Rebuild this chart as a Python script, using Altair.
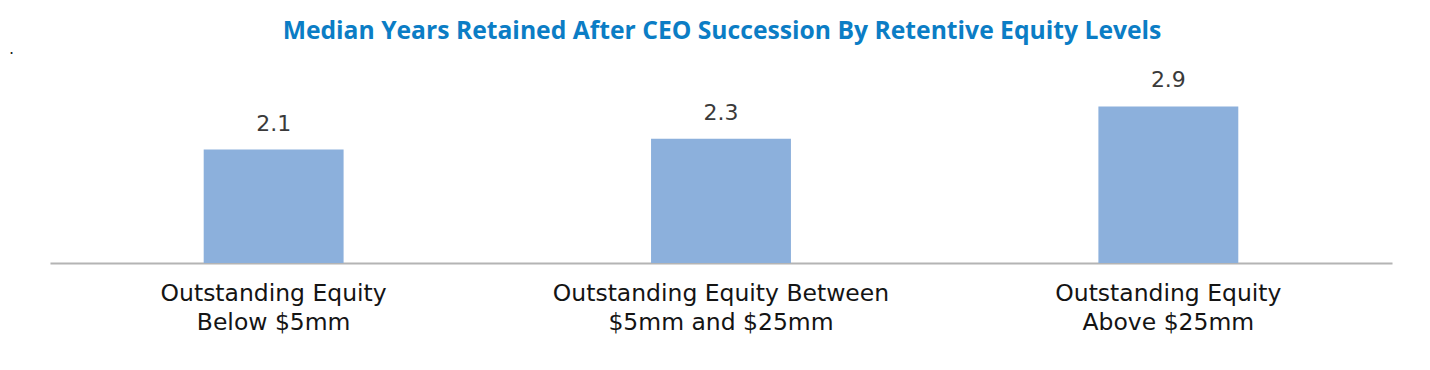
import altair as alt
import pandas as pd

title_text = "Median Years Retained After CEO Succession By Retentive Equity Levels"
categories = [
    "Outstanding Equity|Below $5mm",
    "Outstanding Equity Between|$5mm and $25mm",
    "Outstanding Equity|Above $25mm",
]
values = [2.1, 2.3, 2.9]
value_labels = ["2.1", "2.3", "2.9"]

df = pd.DataFrame({"category": categories, "value": values, "label": value_labels})

FONT = "DejaVu Sans"
TITLE_FONT = "Open Sans"
W, H = 1343, 189

x_enc = alt.X(
    "category:N",
    sort=categories,
    title=None,
    scale=alt.Scale(paddingInner=0, paddingOuter=0),
    axis=alt.Axis(
        orient="bottom",
        labelAngle=0,
        ticks=False,
        domainColor="#b4b4b4",
        domainWidth=2,
        labelFont=FONT,
        labelFontSize=23.5,
        labelColor="#141414",
        labelBaseline="alphabetic",
        labelPadding=38,
        labelLineHeight=28.5,
        labelLimit=500,
        labelExpr="split(datum.label, '|')",
        grid=False,
    ),
)
y_enc = alt.Y("value:Q", scale=alt.Scale(domain=[0, 3.5]), axis=None, title=None)

bars = alt.Chart(df).mark_bar(size=140, color="#8cb0dc").encode(x=x_enc, y=y_enc)

texts = alt.Chart(df).mark_text(
    baseline="alphabetic", dy=-19, font=FONT, fontSize=22, color="#3a3a3a"
).encode(x=x_enc, y=y_enc, text="label:N")

title = alt.Chart(pd.DataFrame({"t": [title_text]})).mark_text(
    font=TITLE_FONT, fontSize=24.7, fontWeight="bold", color="#0b7dc5",
    align="center", baseline="alphabetic"
).encode(x=alt.value(W / 2 + 1), y=alt.value(-34.7), text="t:N")

dot = alt.Chart(pd.DataFrame({"t": ["."]})).mark_text(
    font=FONT, fontSize=16, color="#222222", align="left", baseline="alphabetic"
).encode(x=alt.value(-41), y=alt.value(-20), text="t:N")

chart = (
    alt.layer(bars, texts, title, dot)
    .properties(
        width=W,
        height=H,
        padding={"left": 42, "top": 66, "right": 30, "bottom": 95},
        autosize=alt.AutoSizeParams(type="none"),
    )
    .configure_view(stroke=None)
)

chart.save("out.html", embed_options={"renderer": "svg", "actions": False})
